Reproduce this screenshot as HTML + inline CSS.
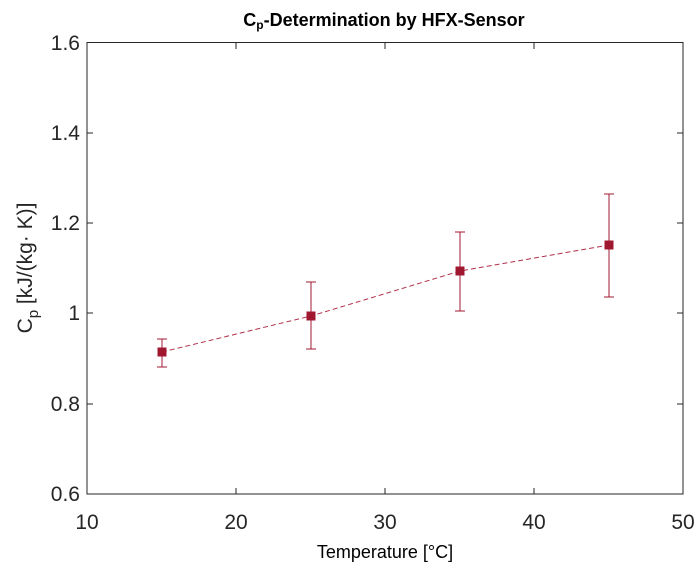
<!DOCTYPE html>
<html><head><style>body{margin:0;background:#fff}</style></head><body>
<svg width="696" height="569" xmlns="http://www.w3.org/2000/svg" font-family="Liberation Sans, sans-serif">
<rect x="0" y="0" width="696" height="569" fill="#fff"/>
<rect x="87" y="42.5" width="596" height="451.5" fill="none" stroke="#262626" stroke-width="1"/>
<g stroke="#262626" stroke-width="1">
<line x1="236" y1="494" x2="236" y2="488"/><line x1="385" y1="494" x2="385" y2="488"/><line x1="534" y1="494" x2="534" y2="488"/>
<line x1="236" y1="43" x2="236" y2="49"/><line x1="385" y1="43" x2="385" y2="49"/><line x1="534" y1="43" x2="534" y2="49"/>
<line x1="87" y1="133" x2="93" y2="133"/><line x1="87" y1="223" x2="93" y2="223"/><line x1="87" y1="313" x2="93" y2="313"/><line x1="87" y1="404" x2="93" y2="404"/>
<line x1="683" y1="133" x2="677" y2="133"/><line x1="683" y1="223" x2="677" y2="223"/><line x1="683" y1="313" x2="677" y2="313"/><line x1="683" y1="404" x2="677" y2="404"/>
</g>
<g font-size="21" fill="#262626" text-anchor="end">
<text x="80" y="50">1.6</text><text x="80" y="140">1.4</text><text x="80" y="230">1.2</text><text x="80" y="320">1</text><text x="80" y="411">0.8</text><text x="80" y="501">0.6</text>
</g>
<g font-size="21" fill="#262626" text-anchor="middle">
<text x="87" y="529">10</text><text x="236" y="529">20</text><text x="385" y="529">30</text><text x="534" y="529">40</text><text x="683" y="529">50</text>
</g>
<text x="385" y="558" font-size="18" text-anchor="middle" fill="#000">Temperature [°C]</text>
<text x="384" y="26" font-size="18" font-weight="bold" text-anchor="middle" fill="#000">C<tspan font-size="12" dy="3">p</tspan><tspan dy="-3">-Determination by HFX-Sensor</tspan></text>
<text transform="translate(32,268) rotate(-90)" font-size="21" text-anchor="middle" fill="#262626">C<tspan font-size="15" dy="6">p</tspan><tspan dy="-6"> [kJ/(kg· K)]</tspan></text>
<polyline points="162,352 311,316 460,271 609,245" fill="none" stroke="#b0304a" stroke-width="1" stroke-dasharray="5,3"/>
<g stroke="#a01830" stroke-width="1">
<line x1="162" y1="339" x2="162" y2="367"/><line x1="157" y1="339" x2="167" y2="339"/><line x1="157" y1="367" x2="167" y2="367"/>
<line x1="311" y1="282" x2="311" y2="349"/><line x1="306" y1="282" x2="316" y2="282"/><line x1="306" y1="349" x2="316" y2="349"/>
<line x1="460" y1="232" x2="460" y2="311"/><line x1="455" y1="232" x2="465" y2="232"/><line x1="455" y1="311" x2="465" y2="311"/>
<line x1="609" y1="194" x2="609" y2="297"/><line x1="604" y1="194" x2="614" y2="194"/><line x1="604" y1="297" x2="614" y2="297"/>
</g>
<g fill="#a01830">
<rect x="157.5" y="347.5" width="9" height="9"/><rect x="306.5" y="311.5" width="9" height="9"/><rect x="455.5" y="266.5" width="9" height="9"/><rect x="604.5" y="240.5" width="9" height="9"/>
</g>
</svg>
</body></html>
